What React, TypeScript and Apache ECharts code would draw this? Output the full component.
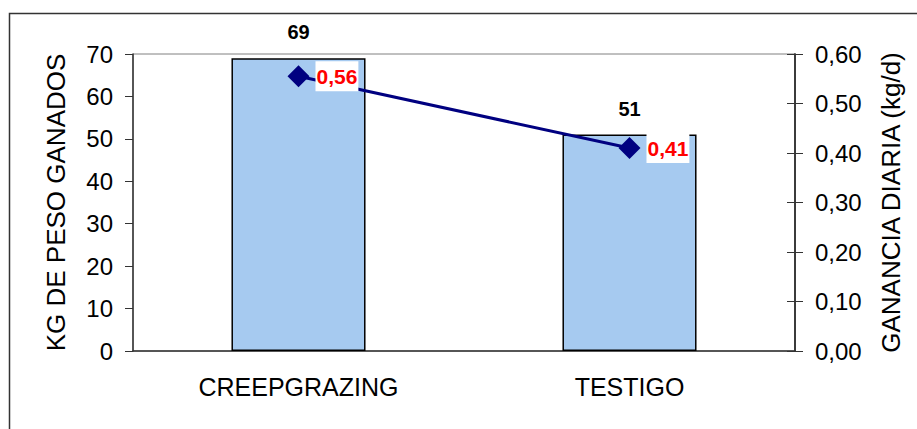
import React, { useEffect, useRef } from "react";
import * as echarts from "echarts";

const categories = ["CREEPGRAZING", "TESTIGO"];
const kgGanados = [69, 51];
const gananciaDiaria = [0.555, 0.41];
const gananciaLabels = ["0,56", "0,41"];
const leftTicks = { min: 0, max: 70, interval: 10 };
const rightTicks = { min: 0, max: 0.6, interval: 0.1 };

const FONT = "'Liberation Sans', Arial, sans-serif";

export default function App() {
  const ref = useRef<HTMLDivElement>(null);
  useEffect(() => {
    document.body.style.margin = "0";
    const chart = echarts.init(ref.current!, null, { renderer: "svg" });
    chart.setOption({
      animation: false,
      textStyle: { fontFamily: FONT },
      graphic: [
        {
          type: "rect",
          shape: { x: 9.5, y: 13.5, width: 1000, height: 1000 },
          style: { fill: "none", stroke: "#333", lineWidth: 1.5 },
          silent: true,
        },
      ],
      grid: {
        left: 133,
        right: 122,
        top: 54,
        bottom: 78,
        show: true,
        borderColor: "#808080",
        borderWidth: 1,
        backgroundColor: "transparent",
      },
      xAxis: {
        type: "category",
        data: categories,
        axisLine: { lineStyle: { color: "#333", width: 1.5 } },
        axisTick: { show: false },
        axisLabel: { color: "#000", fontSize: 25, margin: 23, fontFamily: FONT },
      },
      yAxis: [
        {
          type: "value",
          ...leftTicks,
          position: "left",
          name: "KG DE PESO GANADOS",
          nameLocation: "middle",
          nameRotate: 90,
          nameGap: 64,
          nameTextStyle: { color: "#000", fontSize: 26, fontFamily: FONT },
          axisLine: { show: true, lineStyle: { color: "#333", width: 1.5 } },
          axisTick: { show: true, length: 8, lineStyle: { color: "#333" } },
          axisLabel: { color: "#000", fontSize: 24, margin: 20, fontFamily: FONT },
          splitLine: { show: false },
        },
        {
          type: "value",
          ...rightTicks,
          position: "right",
          name: "GANANCIA DIARIA (kg/d)",
          nameLocation: "middle",
          nameRotate: 90,
          nameGap: 83,
          nameTextStyle: { color: "#000", fontSize: 26, fontFamily: FONT },
          axisLine: { show: true, lineStyle: { color: "#333", width: 1.5 } },
          axisTick: { show: true, length: 8, lineStyle: { color: "#333" } },
          axisLabel: {
            color: "#000",
            fontSize: 24,
            margin: 20,
            fontFamily: FONT,
            formatter: (v: number) => v.toFixed(2).replace(".", ","),
          },
          splitLine: { show: false },
        },
        {
          type: "value",
          ...rightTicks,
          position: "right",
          axisLine: { show: true, lineStyle: { color: "#333", width: 1.5 } },
          axisTick: { show: true, inside: true, length: 8, lineStyle: { color: "#333" } },
          axisLabel: { show: false },
          splitLine: { show: false },
        },
      ],
      series: [
        {
          type: "bar",
          data: kgGanados,
          yAxisIndex: 0,
          barWidth: "40.5%",
          itemStyle: { color: "#A6CAF0", borderColor: "#000", borderWidth: 1.5 },
          label: {
            show: true,
            position: "top",
            distance: 16,
            color: "#000",
            fontSize: 20,
            fontWeight: "bold",
            fontFamily: FONT,
          },
        },
        {
          type: "line",
          data: gananciaDiaria,
          yAxisIndex: 1,
          symbol: "diamond",
          symbolSize: 22,
          lineStyle: { color: "#000080", width: 3 },
          itemStyle: { color: "#000080" },
          label: {
            show: true,
            position: "right",
            distance: 6,
            color: "#FF0000",
            fontSize: 21,
            fontWeight: "bold",
            fontFamily: FONT,
            backgroundColor: "#fff",
            padding: [5, 1, 4, 1],
            formatter: (p: any) => gananciaLabels[p.dataIndex],
          },
        },
      ],
    });
    return () => chart.dispose();
  }, []);
  return <div ref={ref} style={{ width: 917, height: 429 }} />;
}
